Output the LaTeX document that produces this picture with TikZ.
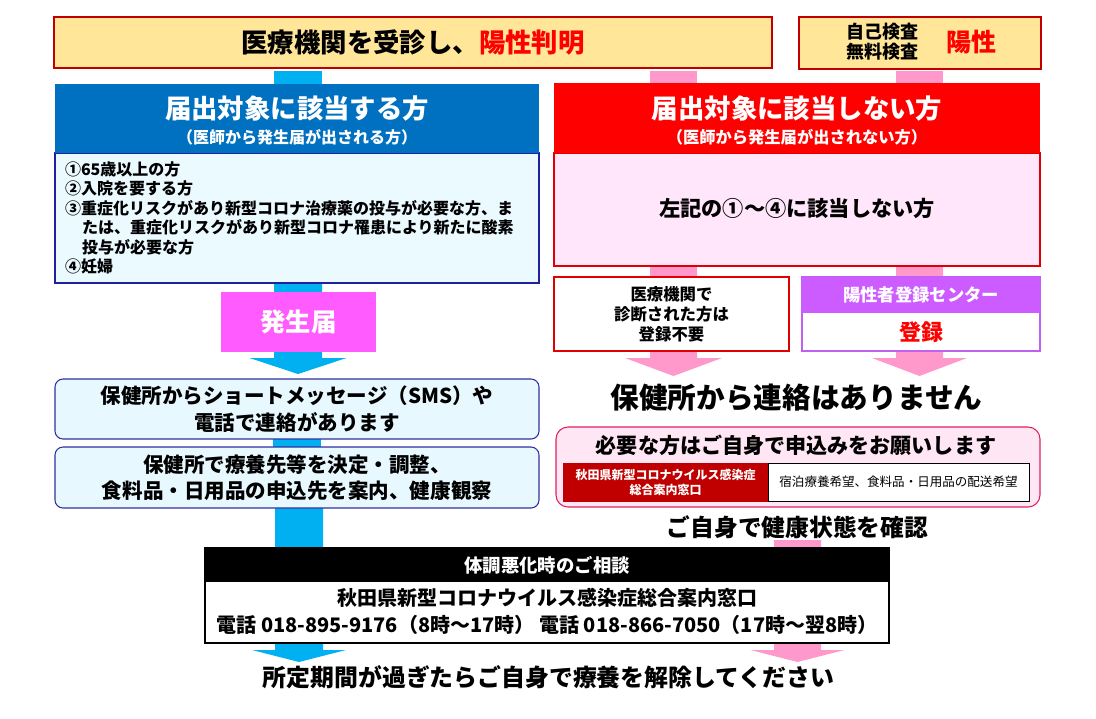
\documentclass[tikz,border=0pt]{standalone}
\usepackage{fontspec}
\setmainfont{Noto Sans CJK JP}
\usetikzlibrary{calc}
\pgfdeclarelayer{bg}
\pgfsetlayers{bg,main}
\definecolor{topfill}{HTML}{FFE699}
\definecolor{topdraw}{HTML}{C00000}
\definecolor{blueC}{HTML}{00B0F0}
\definecolor{pinkC}{HTML}{FF99CC}
\definecolor{hdrblue}{HTML}{0070C0}
\definecolor{lbody}{HTML}{EBFAFF}
\definecolor{lborder}{HTML}{2020A0}
\definecolor{rhdr}{HTML}{FF0000}
\definecolor{rbody}{HTML}{FFE6FA}
\definecolor{rborder}{HTML}{E00000}
\definecolor{hotred}{HTML}{FF0000}
\definecolor{hatsu}{HTML}{FF5BFF}
\definecolor{smsfill}{HTML}{E8F8FF}
\definecolor{smsborder}{HTML}{3030A0}
\definecolor{purpleH}{HTML}{CC5CFF}
\definecolor{purpleB}{HTML}{C060F0}
\definecolor{pinkfill}{HTML}{FFE6F5}
\definecolor{pinkborder}{HTML}{E0205A}
\definecolor{darkred}{HTML}{C00000}
\newcommand\fz[2]{\fontsize{#1}{#2}\selectfont\bfseries}
\newcommand\blk[6]{\fill[#1] let \p1=(#2), \p2=(#3) in
  (\x2-#4*0.75pt,\y1) -- (\x2+#4*0.75pt,\y1) -- (\x2+#4*0.75pt,\y2+#6*0.75pt) --
  (\x2+#5*0.75pt,\y2+#6*0.75pt) -- (\x2,\y2) -- (\x2-#5*0.75pt,\y2+#6*0.75pt) --
  (\x2-#4*0.75pt,\y2+#6*0.75pt) -- cycle;}
\tikzset{
  box/.style 2 args={rectangle, minimum width=#1*0.75pt, minimum height=#2*0.75pt, inner sep=0pt, outer sep=0pt},
  txt/.style={inner sep=0pt, outer sep=0pt},
  lw/.style={line width=0.8pt},
  bshaft/.style={blueC, line width=36pt},
  pshaft/.style={pinkC, line width=35.25pt}
}
\begin{document}
\begin{tikzpicture}[x=0.75pt,y=-0.75pt]
\useasboundingbox (0,0) rectangle (1096,718);
% top boxes
\node[box={718}{51}, fill=topfill, draw=topdraw, lw] (top) at (413,42.5) {};
\node[txt, font=\fz{19.8pt}{22pt}] (toptxt) at (413,42.5) {医療機関を受診し、\textcolor{hotred}{陽性判明}};
\node[box={242}{52}, fill=topfill, draw=topdraw, lw] (top2) at (920,43) {};
\node[txt, align=center, font=\fz{13.5pt}{15pt}] (top2a) at (882.5,42) {自己検査\\無料検査};
\node[txt, text=hotred, font=\fz{18.75pt}{20pt}] (top2b) at (971,42) {陽性};
% left block
\node[box={484}{130}, fill=lbody, draw=lborder, lw] (Lb) at (297,218) {};
\node[box={484}{69}, fill=hdrblue] (Lh) at (297,118.5) {};
\node[txt, text=white, font=\fz{19.8pt}{22pt}] (Lt1) at (297,109) {届出対象に該当する方};
\node[txt, text=white, font=\fz{12pt}{14pt}] (Lt2) at (297,137) {（医師から発生届が出される方）};
\node[txt, anchor=west, font=\fz{12pt}{14pt}] (l1) at (65,169) {①65歳以上の方};
\node[txt, anchor=west, font=\fz{12pt}{14pt}] (l2) at (65,188) {②入院を要する方};
\node[txt, anchor=west, font=\fz{12pt}{14pt}] (l3) at (65,208) {③重症化リスクがあり新型コロナ治療薬の投与が必要な方、ま};
\node[txt, anchor=west, font=\fz{12pt}{14pt}] (l4) at (82,227) {たは、重症化リスクがあり新型コロナ罹患により新たに酸素};
\node[txt, anchor=west, font=\fz{12pt}{14pt}] (l5) at (82,247) {投与が必要な方};
\node[txt, anchor=west, font=\fz{12pt}{14pt}] (l6) at (65,266) {④妊婦};
% right block
\node[box={486}{113}, fill=rbody, draw=rborder, lw] (Rb) at (797,209.5) {};
\node[box={486}{70}, fill=rhdr] (Rh) at (797,118) {};
\node[txt, text=white, font=\fz{19.8pt}{22pt}] (Rt1) at (797,109) {届出対象に該当しない方};
\node[txt, text=white, font=\fz{12.2pt}{14pt}] (Rt2) at (797,137) {（医師から発生届が出されない方）};
\node[txt, font=\fz{15.9pt}{18pt}] (Rt3) at (797,208) {左記の①～④に該当しない方};
% left flow
\node[box={155}{60}, fill=hatsu, text=white, font=\fz{19pt}{20pt}] (hatsu) at (298.5,322) {発生届};
\node[box={484}{60}, rounded corners=6pt, fill=smsfill, draw=smsborder, lw, align=center, font=\fz{15.4pt}{20.25pt}] (sms) at (297,409) {保健所からショートメッセージ（SMS）や\\電話で連絡があります};
\node[box={484}{61}, rounded corners=6pt, fill=smsfill, draw=smsborder, lw, align=center, font=\fz{15.4pt}{19.5pt}] (sms2) at (297,477.5) {保健所で療養先等を決定・調整、\\食料品・日用品の申込先を案内、健康観察};
% right flow
\node[box={235}{74}, fill=white, draw=rborder, lw, align=center, font=\fz{12.3pt}{15pt}] (med) at (671.5,314) {医療機関で\\診断された方は\\登録不要};
\node[box={238}{74}, fill=white, draw=purpleB, lw] (reg) at (921,314) {};
\node[box={238}{36}, fill=purpleH, text=white, font=\fz{13pt}{14pt}] (regh) at (921,295) {陽性者登録センター};
\node[txt, text=hotred, font=\fz{16.5pt}{18pt}] (regt) at (921,332) {登録};
\node[txt, font=\fz{21.5pt}{24pt}] (none) at (796.5,398) {保健所から連絡はありません};
\node[box={484}{80}, rounded corners=9pt, fill=pinkfill, draw=pinkborder, lw] (pb) at (798,467) {};
\node[txt, font=\fz{15.8pt}{18pt}] (pbt) at (796,445) {必要な方はご自身で申込みをお願いします};
\node[box={205}{38}, fill=darkred, draw=darkred, text=white, align=center, font=\fz{9pt}{11.25pt}] (ir) at (665.5,482) {秋田県新型コロナウイルス感染症\\総合案内窓口};
\node[box={261}{38}, fill=white, draw=black, line width=0.6pt, font=\fontsize{9.4pt}{11pt}\selectfont] (iw) at (898.5,482) {宿泊療養希望、食料品・日用品の配送希望};
\node[txt, font=\fz{17.8pt}{20pt}] (chk) at (797.5,527) {ご自身で健康状態を確認};
% consultation box
\node[box={684}{95}, fill=white, draw=black, lw] (bk) at (547,595.5) {};
\node[box={684}{34}, fill=black, text=white, font=\fz{13.8pt}{16pt}] (bkh) at (547,565) {体調悪化時のご相談};
\node[txt, align=center, font=\fz{15pt}{20.25pt}] (bkt) at (547,611.5) {秋田県新型コロナウイルス感染症総合案内窓口\\電話 018-895-9176（8時～17時） 電話 018-866-7050（17時～翌8時）};
\node[txt, font=\fz{17.9pt}{20pt}] (fin) at (548.5,677) {所定期間が過ぎたらご自身で療養を解除してください};
% connectors
\coordinate (s1) at ($(top.south)+(0,3)$);
\coordinate (s2) at ($(top2.south)+(0,2)$);
\coordinate (tipA) at (298,374);
\coordinate (tipB) at (299,662);
\coordinate (tipM) at (673.5,376);
\coordinate (tipR) at (919.5,376);
\coordinate (pc) at (797.5,540);
\coordinate (tipP) at (797.5,662);
\begin{pgfonlayer}{bg}
\draw[bshaft] (s1 -| tipA) -- (Lh.north -| tipA);
\draw[pshaft] (s1 -| tipM) -- (Rh.north -| tipM);
\draw[pshaft] (s2 -| tipR) -- (Rh.north -| tipR);
\blk{blueC}{Lb.south}{tipA}{24}{48.5}{16}
\draw[bshaft] (sms.south) -- (sms2.north);
\blk{blueC}{sms2.south}{tipB}{24}{47}{12}
\blk{pinkC}{Rb.south}{tipM}{23.5}{48.5}{18}
\blk{pinkC}{Rb.south}{tipR}{23.5}{47.5}{18}
\blk{pinkC}{pc}{tipP}{23.5}{47}{12}
\end{pgfonlayer}
\end{tikzpicture}
\end{document}
